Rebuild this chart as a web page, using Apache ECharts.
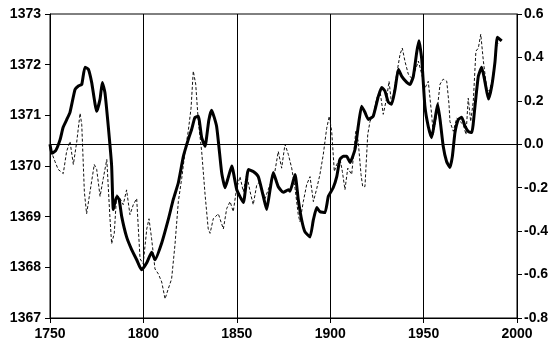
<!DOCTYPE html>
<html>
<head>
<meta charset="utf-8">
<script src="https://cdn.jsdelivr.net/npm/echarts@6/dist/echarts.min.js"></script>
<style>
  html, body { margin: 0; padding: 0; background: #fff; }
  #chart { width: 559px; height: 354px; }
</style>
</head>
<body>
<div id="chart"></div>
<script>
  // solar irradiance (W/m2), left axis - thick line
  var solarYears = [1750, 1751, 1753, 1755.4, 1757, 1759, 1760.7, 1763.4, 1765.2, 1767, 1768.7, 1770.5, 1772.3,
    1775, 1776.8, 1778, 1779.4, 1781.2, 1783, 1783.9, 1785.7, 1787, 1788.4, 1791, 1793.7, 1796.4, 1799,
    1801.8, 1804.4, 1806.2, 1809.8, 1813.3, 1816, 1818.7, 1821.4, 1824, 1825.8, 1827.6, 1829.4, 1831.2,
    1833, 1835, 1836.5, 1839.2, 1841.9, 1843.7, 1845.4, 1847.3, 1850, 1853.5, 1856.2, 1858.8, 1861.5,
    1864.2, 1866, 1867.8, 1869.5, 1872.2, 1874.9, 1877.6, 1878.5, 1881.2, 1882.9, 1884.7, 1886.5, 1889.2,
    1891, 1892.8, 1894.5, 1897.2, 1899, 1901.6, 1903.5, 1905.2, 1907, 1908.8, 1910.6, 1913.3, 1915,
    1916.8, 1918.6, 1920.4, 1923, 1925.8, 1927.6, 1929.3, 1931.1, 1932.9, 1934.7, 1936.5, 1938.3, 1941,
    1942.7, 1944.5, 1946.3, 1947.5, 1949, 1950.7, 1952.5, 1954.3, 1956.1, 1957.5, 1958.8, 1960.5, 1962.3,
    1964.1, 1965.4, 1966.8, 1968.6, 1970.4, 1972.2, 1974, 1975.8, 1977.5, 1979.3, 1981.1, 1982.9, 1984.7,
    1986.5, 1988.2, 1989.5, 1991.8]
  var solarValues = [1370.43, 1370.25, 1370.3, 1370.52, 1370.76, 1370.92, 1371.06, 1371.51, 1371.58, 1371.61, 1371.95, 1371.91, 1371.65,
    1371.08, 1371.32, 1371.65, 1371.45, 1370.78, 1370.0, 1369.14, 1369.4, 1369.34, 1369.0, 1368.6, 1368.35, 1368.15, 1367.95,
    1368.09, 1368.3, 1368.15, 1368.48, 1368.94, 1369.34, 1369.67, 1370.19, 1370.52, 1370.72, 1370.96, 1370.98, 1370.56,
    1370.39, 1370.9, 1371.1, 1370.78, 1369.87, 1369.57, 1369.77, 1370.0, 1369.53, 1369.28, 1369.93, 1369.89, 1369.79,
    1369.4, 1369.14, 1369.53, 1369.87, 1369.59, 1369.48, 1369.53, 1369.5, 1369.83, 1369.34, 1368.94, 1368.7, 1368.6,
    1368.94, 1369.18, 1369.1, 1369.08, 1369.4, 1369.57, 1369.79, 1370.13, 1370.19, 1370.19, 1370.07, 1370.33, 1370.78,
    1371.18, 1371.06, 1370.92, 1370.98, 1371.38, 1371.55, 1371.48, 1371.26, 1371.22, 1371.51, 1371.91, 1371.77, 1371.65,
    1371.61, 1371.77, 1372.24, 1372.47, 1372.11, 1371.18, 1370.78, 1370.56, 1370.92, 1371.22, 1370.92, 1370.39, 1370.09,
    1369.97, 1370.19, 1370.66, 1370.92, 1370.96, 1370.78, 1370.68, 1370.66, 1371.18, 1371.77, 1371.95, 1371.65, 1371.32,
    1371.58, 1372.05, 1372.54, 1372.47]

  // temperature anomaly, right axis - thin dashed line
  var tempYears = [1750.5, 1752.7, 1754.4, 1757.1, 1758.9, 1760.7, 1762.5, 1764.3, 1766.1, 1767, 1768.4, 1769.6,
    1771.4, 1773.7, 1775, 1776.8, 1778.5, 1780.4, 1782.1, 1783, 1784.4, 1785.7, 1787.5, 1789.2, 1791, 1792.8,
    1794.6, 1796.4, 1798.2, 1799.9, 1801.8, 1803, 1804.4, 1806.2, 1808, 1809.8, 1811.6, 1813.3, 1815.1, 1816.9,
    1818.7, 1820.5, 1822.3, 1824, 1825.5, 1826.7, 1828, 1829.4, 1831.2, 1833, 1834.7, 1835.7, 1837.4, 1840.1,
    1842.8, 1844.6, 1846.4, 1848.1, 1849.9, 1851.7, 1853.5, 1855.3, 1857.1, 1858.8, 1860.7, 1862.4, 1865.1,
    1867.8, 1870.4, 1872.2, 1874, 1875.8, 1877.6, 1879.4, 1881.2, 1882.9, 1883.8, 1885.6, 1887.4, 1889.2, 1891,
    1892.8, 1894.5, 1896.3, 1898.1, 1899.5, 1900.8, 1902.2, 1903.5, 1905.2, 1906.5, 1907.9, 1909.4, 1911.5,
    1913.7, 1915, 1916.5, 1917.4, 1918.6, 1920.1, 1921.3, 1923.1, 1924.9, 1926.7, 1928.4, 1930.2, 1931.5,
    1932.9, 1935.6, 1937.4, 1938.6, 1940, 1941.8, 1943.6, 1945.4, 1947.2, 1949, 1950.7, 1952.5, 1954.3, 1955.2,
    1957, 1958.8, 1960.5, 1962.4, 1963.6, 1964.1, 1965.9, 1967.7, 1969.5, 1971.3, 1972.7, 1973.9, 1975.2,
    1976.6, 1978, 1979.3, 1980.6, 1982, 1983.8, 1985.2, 1986.5, 1987.7, 1989.1, 1990]
  var tempValues = [-0.03, -0.08, -0.116, -0.135, -0.033, 0.013, -0.093, 0.01, 0.143, 0.09, -0.22, -0.32,
    -0.22, -0.093, -0.116, -0.24, -0.158, -0.07, -0.34, -0.458, -0.41, -0.23, -0.25, -0.278, -0.21, -0.324,
    -0.278, -0.25, -0.527, -0.55, -0.39, -0.343, -0.435, -0.574, -0.597, -0.634, -0.712, -0.666, -0.62, -0.463,
    -0.264, -0.158, -0.033, 0.06, 0.166, 0.337, 0.277, 0.105, -0.033, -0.23, -0.39, -0.41, -0.343, -0.32,
    -0.39, -0.296, -0.264, -0.31, -0.204, -0.149, -0.218, -0.139, -0.218, -0.278, -0.186, -0.172, -0.25,
    -0.186, -0.125, -0.033, -0.11, 0.0, -0.047, -0.11, -0.204, -0.324, -0.357, -0.264, -0.186, -0.149, -0.264,
    -0.204, -0.139, -0.047, 0.073, 0.129, 0.06, -0.125, -0.093, -0.065, -0.125, -0.209, -0.11, -0.139,
    0.06, 0.013, -0.139, -0.195, -0.195, 0.045, 0.105, 0.138, 0.212, 0.244, 0.138, 0.212, 0.29,
    0.184, 0.323, 0.415, 0.443, 0.383, 0.323, 0.304, 0.337, 0.383, 0.323, 0.258, 0.29, 0.138, 0.045,
    0.138, 0.277, 0.3, 0.29, 0.184, 0.105, 0.06, 0.12, 0.105, 0.09, 0.045, 0.212, 0.105,
    0.198, 0.429, 0.443, 0.507, 0.383, 0.258, 0.244, 0.29, 0.35, 0.452, 0.466]

  var labelFont = { color: '#000', fontFamily: 'Liberation Sans, Arial, sans-serif', fontSize: 14, fontWeight: 'bold' }

  function pairs (xs, ys) {
    return xs.map(function (x, i) { return [x, ys[i]] })
  }

  var chart = echarts.init(document.getElementById('chart'))
  var option = {
    animation: false,
    backgroundColor: '#fff',
    grid: {
      left: 50,
      right: 42,
      top: 14,
      bottom: 36,
      containLabel: false,
      show: true,
      borderColor: '#000',
      borderWidth: 1
    },
    xAxis: {
      type: 'value',
      min: 1750,
      max: 2000,
      interval: 50,
      axisLine: { show: true, onZero: false, lineStyle: { color: '#000', width: 1 } },
      axisTick: { show: true, inside: false, length: 5, lineStyle: { color: '#000' } },
      axisLabel: Object.assign({ margin: 9, formatter: function (v) { return String(v) } }, labelFont),
      splitLine: { show: true, lineStyle: { color: '#000', width: 1 } }
    },
    yAxis: [
      {
        type: 'value',
        min: 1367,
        max: 1373,
        interval: 1,
        position: 'left',
        axisLine: { show: true, lineStyle: { color: '#000' } },
        axisTick: { show: true, length: 5, lineStyle: { color: '#000' } },
        axisLabel: Object.assign({ margin: 9, formatter: function (v) { return String(v) } }, labelFont),
        splitLine: { show: false }
      },
      {
        type: 'value',
        min: -0.8,
        max: 0.6,
        interval: 0.2,
        position: 'right',
        axisLine: { show: true, lineStyle: { color: '#000' } },
        axisTick: { show: true, length: 5, lineStyle: { color: '#000' } },
        axisLabel: Object.assign({
          margin: 7,
          formatter: function (v) { return v.toFixed(1) }
        }, labelFont),
        splitLine: { show: false }
      }
    ],
    series: [
      {
        name: 'temperature',
        type: 'line',
        yAxisIndex: 1,
        data: pairs(tempYears, tempValues),
        showSymbol: false,
        lineStyle: { color: '#111', width: 1, type: [3, 2] },
        markLine: {
          silent: true,
          symbol: 'none',
          label: { show: false },
          lineStyle: { color: '#000', width: 1, type: 'solid' },
          data: [{ yAxis: 0 }]
        },
        z: 2
      },
      {
        name: 'irradiance',
        type: 'line',
        yAxisIndex: 0,
        data: pairs(solarYears, solarValues),
        showSymbol: false,
        smooth: 0.15,
        lineStyle: { color: '#000', width: 3 },
        z: 3
      }
    ]
  }
  chart.setOption(option)
</script>
</body>
</html>
